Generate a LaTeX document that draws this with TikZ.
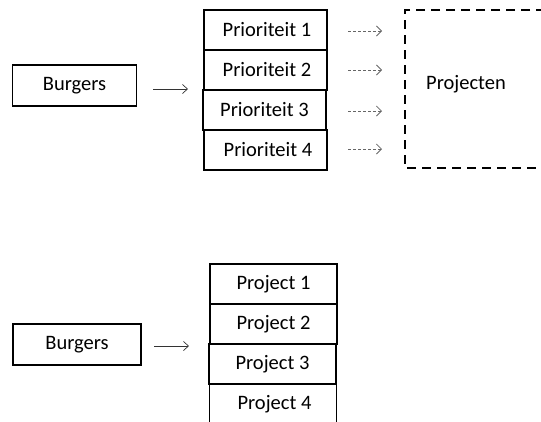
\documentclass[tikz,border=0pt]{standalone}
\usepackage{fontspec}
\setmainfont{Carlito}
\usetikzlibrary{arrows.meta}
\begin{document}
\begin{tikzpicture}[x=1pt,y=-1pt,
  box/.style={draw=black,line width=1.2pt,minimum width=123pt,minimum height=40pt,inner sep=0pt,font=\fontsize{20.5}{24}\selectfont},
  src/.style={box,minimum width=124pt,minimum height=41pt},
  solidarrow/.style={-{Straight Barb[length=5pt,width=9pt,line width=0.7pt]},line width=0.7pt,black!80},
  dasharrow/.style={-{Straight Barb[length=5pt,width=10pt,line width=0.8pt]},line width=0.9pt,dash pattern=on 3pt off 2pt,black!60},
  projbox/.style={draw=black,line width=1.5pt,dash pattern=on 9pt off 6pt}]
\useasboundingbox (0,0) rectangle (541,421);
\begin{scope}
\clip (0,0) rectangle (541,421);
% top section
\node[src] (b1) at (74.5,85.5) {Burgers};
\node[box] (p1) at (265.5,30) {\hspace*{3pt}Prioriteit 1};
\node[box] (p2) at (265.5,70) {\hspace*{3pt}Prioriteit 2};
\node[box] (p3) at (264.5,110) {Prioriteit 3};
\node[box] (p4) at (265.5,150) {\hspace*{5pt}Prioriteit 4};
\coordinate (a0) at (153,89);
\coordinate (a1) at (188,89);
\draw[solidarrow] (a0) -- (a1);
\coordinate (d1s) at (348,31); \coordinate (d1e) at (382,31);
\coordinate (d2s) at (348,70); \coordinate (d2e) at (382,70);
\coordinate (d3s) at (348,111); \coordinate (d3e) at (382,111);
\coordinate (d4s) at (348,149); \coordinate (d4e) at (382,149);
\draw[dasharrow] (d1s) -- (d1e);
\draw[dasharrow] (d2s) -- (d2e);
\draw[dasharrow] (d3s) -- (d3e);
\draw[dasharrow] (d4s) -- (d4e);
\draw[projbox] (560,10) -- (405,10) -- (405,168) -- (560,168);
\node[font=\fontsize{20.5}{24}\selectfont] (proj) at (466,84) {Projecten};
% bottom section
\node[src,minimum width=128pt] (b2) at (77,344.5) {Burgers};
\node[box,minimum width=127pt] (q1) at (273.5,284) {Project 1};
\node[box,minimum width=127pt] (q2) at (273.5,324) {Project 2};
\node[box,minimum width=127pt] (q3) at (272.5,364) {Project 3};
\node[box,minimum width=127pt] (q4) at (273,404) {\hspace*{3pt}Project 4};
\coordinate (c0) at (154,346);
\coordinate (c1) at (189,346);
\draw[solidarrow] (c0) -- (c1);
\end{scope}
\end{tikzpicture}
\end{document}
